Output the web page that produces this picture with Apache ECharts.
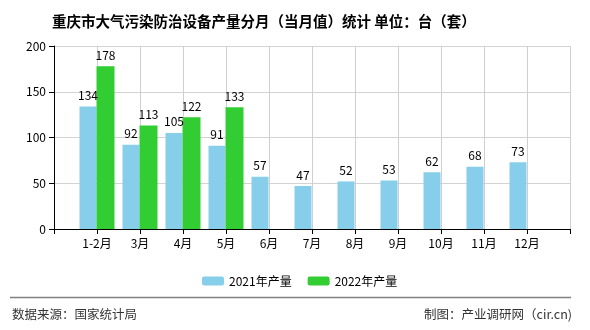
<!DOCTYPE html>
<html>
<head>
<meta charset="utf-8">
<script src="https://cdn.jsdelivr.net/npm/echarts@6/dist/echarts.min.js"></script>
<style>
html,body{margin:0;padding:0;background:#fff;}
#main{width:590px;height:330px;}
</style>
</head>
<body>
<div id="main"></div>
<script>
const categories = ['1-2月','3月','4月','5月','6月','7月','8月','9月','10月','11月','12月'];
const values2021 = [134, 92, 105, 91, 57, 47, 52, 53, 62, 68, 73];
const values2022 = [178, 113, 122, 133, null, null, null, null, null, null, null];
const seriesNames = ['2021年产量', '2022年产量'];
const yTicks = [0, 50, 100, 150, 200];

const font = '"Noto Sans CJK SC", "DejaVu Sans", sans-serif';
const axisCats = [''].concat(categories, ['']);
const pad = arr => [null].concat(arr, [null]);

const chart = echarts.init(document.getElementById('main'), null, {renderer: 'canvas'});
chart.setOption({
  animation: false,
  backgroundColor: '#fff',
  title: {
    text: '重庆市大气污染防治设备产量分月（当月值）统计 单位：台（套）',
    left: 47, top: 9,
    textStyle: {fontSize: 14.5, fontWeight: 'bold', color: '#000', fontFamily: font}
  },
  grid: {left: 54, right: 20, top: 46, bottom: 101, containLabel: false},
  legend: {
    left: 197, top: 270,
    itemWidth: 22, itemHeight: 9, itemGap: 16,
    textStyle: {fontSize: 12, color: '#000', fontFamily: font},
    data: seriesNames
  },
  xAxis: {
    type: 'category',
    data: axisCats,
    boundaryGap: false,
    axisLine: {show: true, lineStyle: {color: '#000', width: 1}},
    axisTick: {show: true, interval: 0, length: 5, lineStyle: {color: '#000'}},
    axisLabel: {fontSize: 12, color: '#000', fontFamily: font, margin: 8, interval: 0},
    splitLine: {show: true, interval: 0, lineStyle: {color: '#cfcfcf', width: 1}}
  },
  yAxis: {
    type: 'value',
    min: yTicks[0], max: yTicks[yTicks.length - 1], interval: 50,
    axisLine: {show: true, lineStyle: {color: '#000', width: 1}},
    axisTick: {show: true, length: 5, lineStyle: {color: '#000'}},
    axisLabel: {fontSize: 12, color: '#000', fontFamily: font, margin: 8},
    splitLine: {show: true, lineStyle: {color: '#d3d3d3', width: 1}}
  },
  series: [
    {
      name: seriesNames[0], type: 'bar', data: pad(values2021),
      barWidth: 17, barGap: '0%',
      itemStyle: {color: '#87CEEB'},
      label: {show: true, position: 'top', distance: 5, fontSize: 12, color: '#000', fontFamily: font}
    },
    {
      name: seriesNames[1], type: 'bar', data: pad(values2022),
      barWidth: 18, barGap: '0%',
      itemStyle: {color: '#32CD32'},
      label: {show: true, position: 'top', distance: 5, fontSize: 12, color: '#000', fontFamily: font}
    }
  ],
  graphic: [
    {type: 'line', shape: {x1: 10, y1: 297.5, x2: 571, y2: 297.5}, style: {stroke: '#808080', lineWidth: 1.5}},
    {type: 'text', left: 12, top: 308, style: {text: '数据来源：国家统计局', fontSize: 12.5, fill: '#333', fontFamily: font}},
    {type: 'text', right: 18, top: 308, style: {text: '制图：产业调研网（cir.cn)', fontSize: 12.5, fill: '#333', fontFamily: font}}
  ]
});
</script>
</body>
</html>
